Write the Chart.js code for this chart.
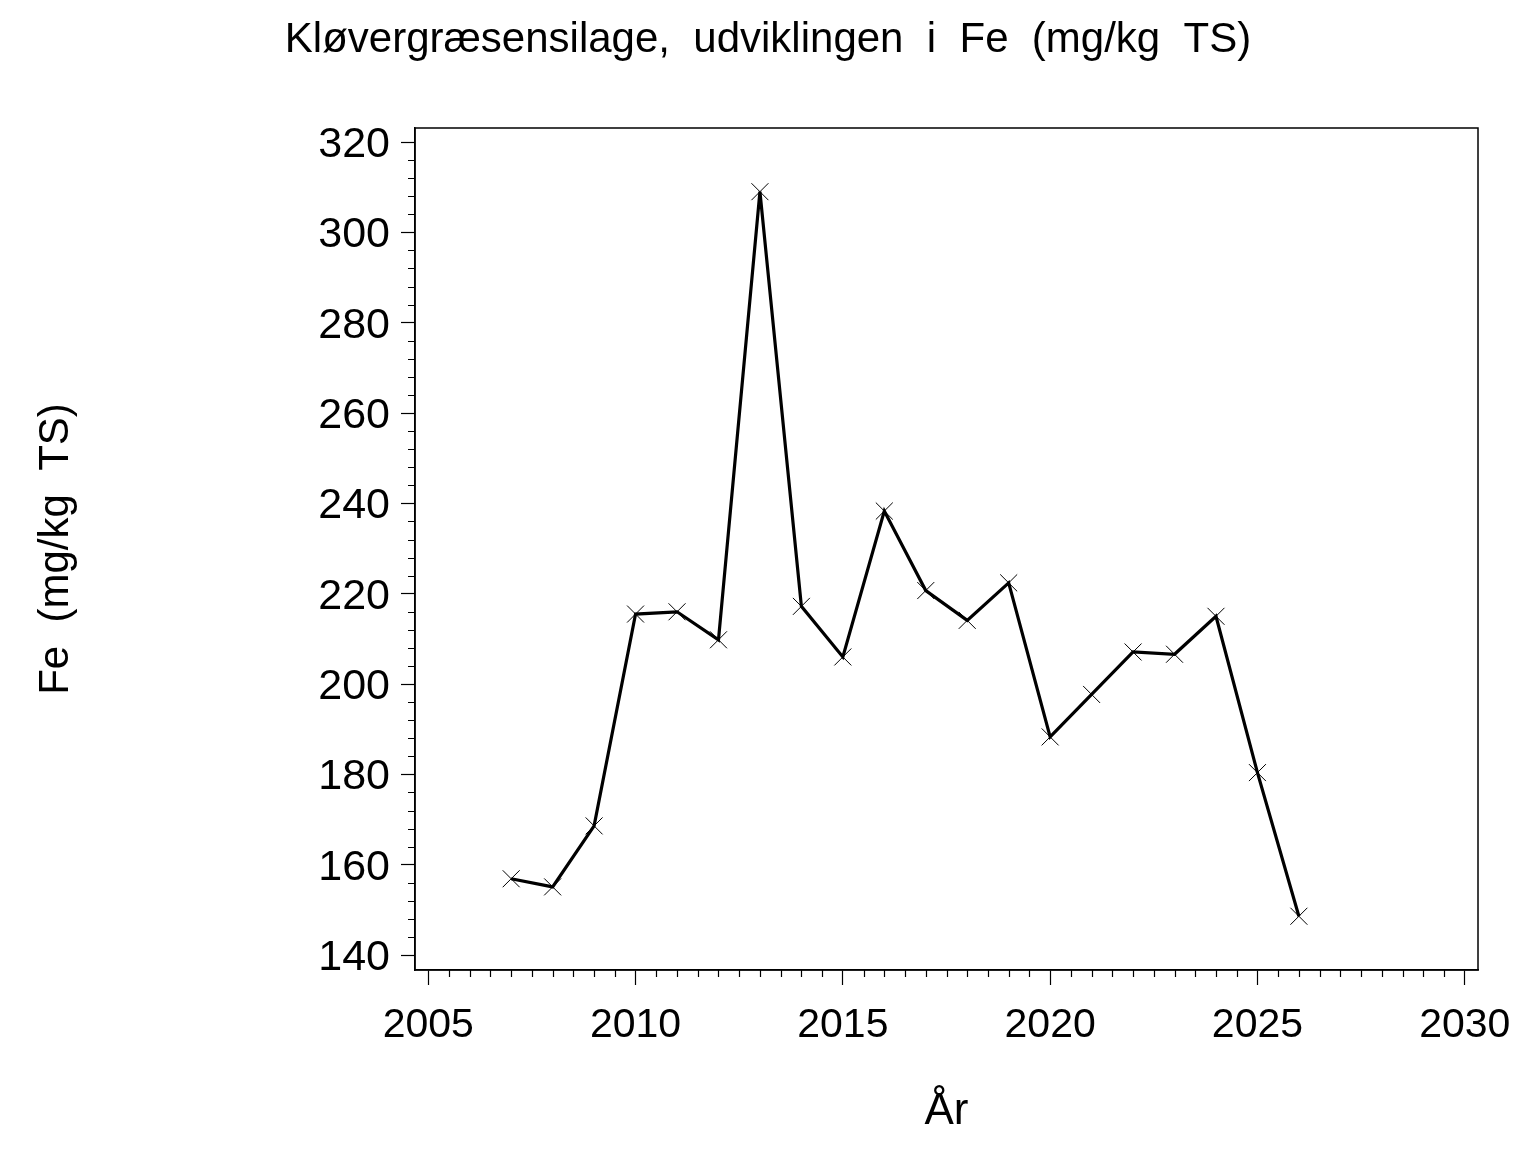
<!DOCTYPE html>
<html lang="da">
<head>
  <meta charset="UTF-8" />
  <title>Kløvergræsensilage, udviklingen i Fe</title>
  <style>
    body { margin: 0; background: #fff; }
    canvas { display: block; }
  </style>
</head>
<body>
  <canvas id="feChart" width="1536" height="1152"></canvas>

  <script src="https://cdn.jsdelivr.net/npm/chart.js"></script>
  <script>
    // data
    const years = [2007, 2008, 2009, 2010, 2011, 2012, 2013, 2014, 2015, 2016,
                   2017, 2018, 2019, 2020, 2021, 2022, 2023, 2024, 2025, 2026];
    const feValues = [156.9, 155.1, 168.6, 215.5, 216.0, 209.8, 309.0, 217.2, 206.0, 238.3,
                      220.7, 214.1, 222.4, 188.3, 197.7, 207.1, 206.6, 215.0, 180.4, 148.6];
    const yTicks = [140, 160, 180, 200, 220, 240, 260, 280, 300, 320];
    const xTicks = [2005, 2010, 2015, 2020, 2025, 2030];
    const yMinorStep = 4;
    const xMinorStep = 0.5;

    const FONT = "'Liberation Sans', Arial, Helvetica, sans-serif";

    // minor ticks + top/right frame
    const frameAndMinors = {
      id: 'frameAndMinors',
      afterDraw(chart) {
        const ctx = chart.ctx;
        const a = chart.chartArea;
        const xs = chart.scales.x, ys = chart.scales.y;
        ctx.save();
        ctx.strokeStyle = '#000';
        ctx.lineWidth = 1.5;
        ctx.strokeRect(a.left, a.top, a.right - a.left, a.bottom - a.top);
        ctx.lineWidth = 1.2;
        ctx.beginPath();
        for (let v = yTicks[0]; v <= yTicks[yTicks.length - 1]; v += yMinorStep) {
          if (yTicks.includes(v)) continue;
          const py = Math.round(ys.getPixelForValue(v)) + 0.5;
          ctx.moveTo(a.left - 7, py);
          ctx.lineTo(a.left, py);
        }
        for (let v = xTicks[0]; v <= xTicks[xTicks.length - 1]; v += xMinorStep) {
          if (xTicks.includes(v)) continue;
          const px = Math.round(xs.getPixelForValue(v)) + 0.5;
          ctx.moveTo(px, a.bottom);
          ctx.lineTo(px, a.bottom + 7);
        }
        ctx.stroke();
        ctx.restore();
      }
    };

    new Chart(document.getElementById('feChart').getContext('2d'), {
      type: 'line',
      data: {
        datasets: [{
          data: years.map((yr, i) => ({ x: yr, y: feValues[i] })),
          borderColor: '#000',
          borderWidth: 3.2,
          tension: 0,
          pointStyle: 'crossRot',
          pointRadius: 12,
          pointBorderWidth: 1,
          pointBorderColor: '#000',
          pointBackgroundColor: '#000'
        }]
      },
      options: {
        responsive: false,
        devicePixelRatio: 1,
        animation: false,
        layout: { padding: 0 },
        plugins: {
          legend: { display: false },
          tooltip: { enabled: false },
          title: {
            display: true,
            text: 'Kløvergræsensilage,  udviklingen  i  Fe  (mg/kg  TS)',
            color: '#000',
            font: { family: FONT, size: 42, weight: 'normal', lineHeight: 1.2 },
            padding: { top: 15, bottom: 62.6 }
          }
        },
        scales: {
          x: {
            type: 'linear',
            min: 2004.68,
            max: 2030.32,
            afterBuildTicks: s => { s.ticks = xTicks.map(v => ({ value: v })); },
            afterFit: s => { s.height = 182; },
            border: { display: true, color: '#000', width: 1.5 },
            grid: { display: true, drawOnChartArea: false, tickLength: 15, color: '#000', tickColor: '#000', tickWidth: 1.2 },
            ticks: {
              color: '#000',
              font: { family: FONT, size: 41 },
              padding: 16,
              maxRotation: 0,
              callback: v => String(v)
            },
            title: {
              display: true,
              text: 'År',
              color: '#000',
              font: { family: FONT, size: 44, lineHeight: 1.2 },
              padding: { top: 0, bottom: 14 }
            }
          },
          y: {
            min: 136.7,
            max: 323.1,
            afterBuildTicks: s => { s.ticks = yTicks.map(v => ({ value: v })); },
            afterFit: s => { s.width = 415; },
            border: { display: true, color: '#000', width: 1.5 },
            grid: { display: true, drawOnChartArea: false, tickLength: 14, color: '#000', tickColor: '#000', tickWidth: 1.2 },
            ticks: {
              color: '#000',
              font: { family: FONT, size: 43 },
              padding: 11,
              labelOffset: 3,
              callback: v => String(v)
            },
            title: {
              display: true,
              text: 'Fe  (mg/kg  TS)',
              color: '#000',
              font: { family: FONT, size: 42, lineHeight: 1.2 },
              padding: { top: 31, bottom: 0 }
            }
          },
          // empty right-hand box so the plot ends at the same place as the original
          yRight: {
            position: 'right',
            display: true,
            afterFit: s => { s.width = 58; },
            border: { display: false },
            grid: { display: false },
            ticks: { display: false }
          }
        }
      },
      plugins: [frameAndMinors]
    });
  </script>
</body>
</html>
